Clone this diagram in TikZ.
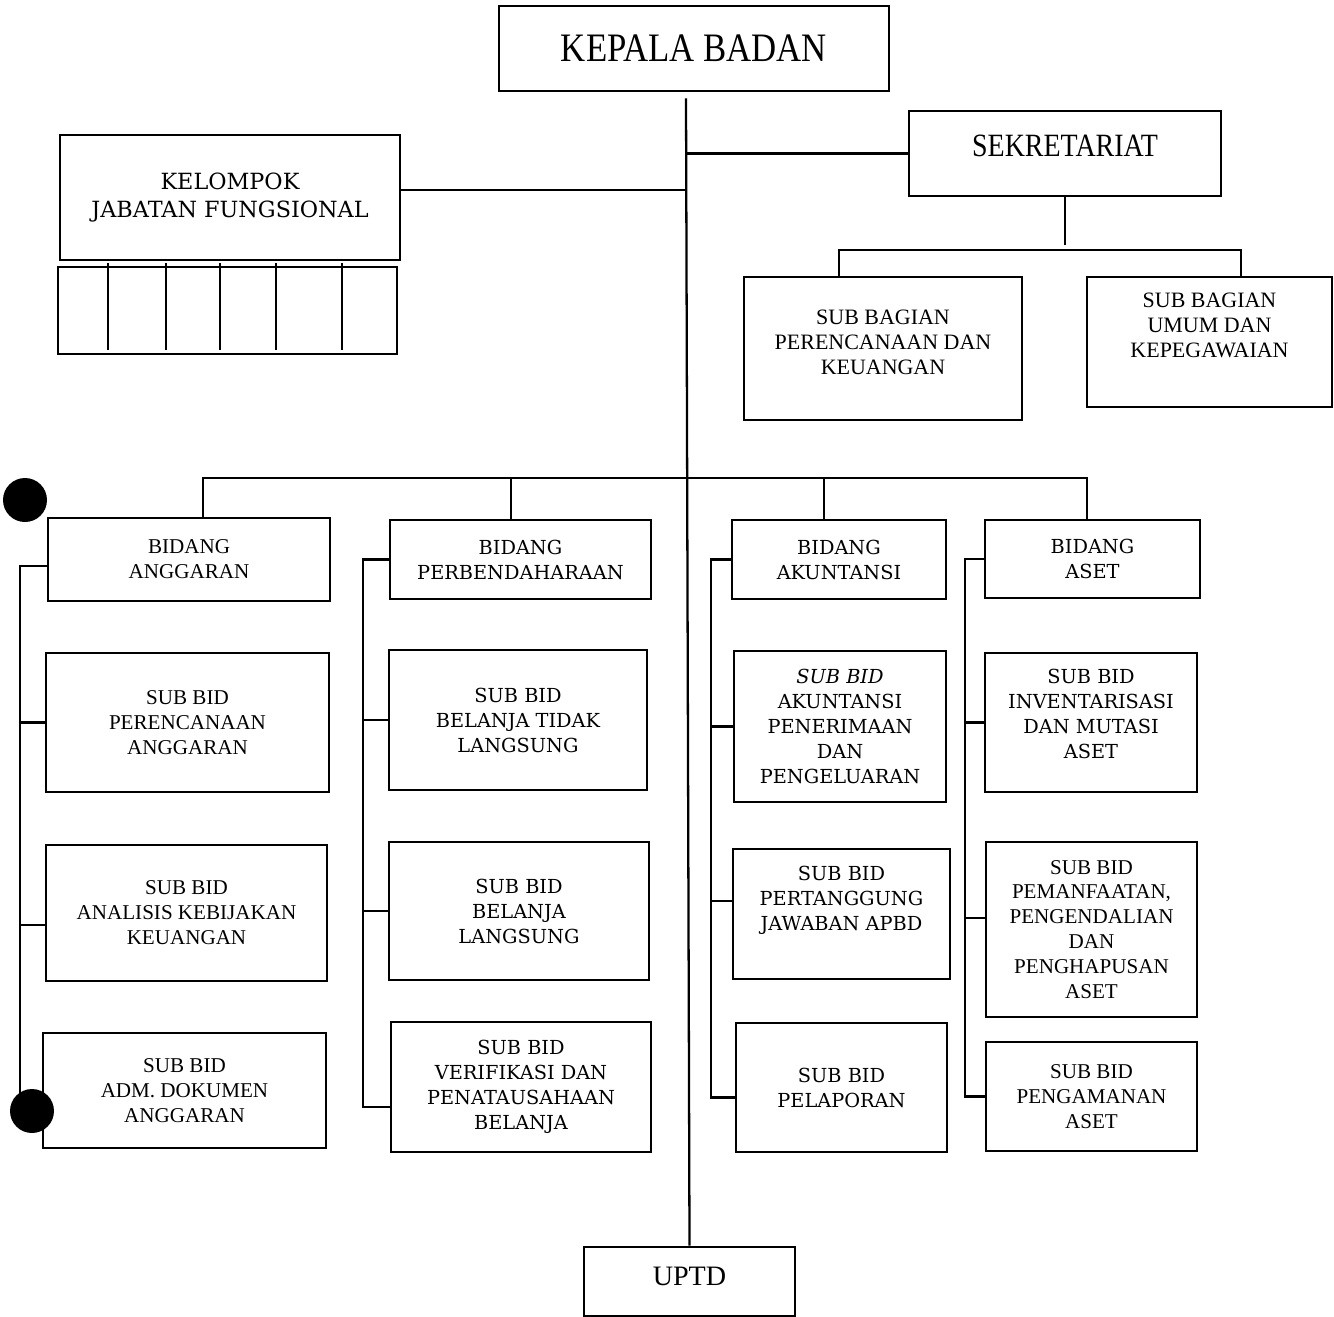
\documentclass[tikz,border=0pt]{standalone}
\usepackage{fontspec}
\setmainfont{Liberation Serif}
\newfontfamily\bkfont{DejaVu Serif}
\newfontfamily\cdfont[FakeStretch=0.86]{Liberation Serif}
\usepackage{tikz}

\tikzset{
  box/.style={draw, line width=1.6pt, align=center, inner sep=0pt},
  wh/.style 2 args={minimum width=#1*0.02cm, minimum height=#2*0.02cm},
  tm/.style={font=\fontsize{12}{14.2}\selectfont},
  bk/.style={font=\bkfont\fontsize{11}{14.2}\selectfont},
  link/.style={line width=1.3pt},
}

\begin{document}
\begin{tikzpicture}[x=0.02cm, y=-0.02cm]
\useasboundingbox (0,0) rectangle (1334,1316);

% top
\node[box, wh={390}{85}, font=\cdfont\fontsize{23}{26}\selectfont] (ka) at (694,48.5) {KEPALA BADAN};
\node[box, wh={312}{85}, text depth=0.3cm, font=\cdfont\fontsize{18.5}{22}\selectfont] (sek) at (1065,153.5) {SEKRETARIAT};
\node[box, wh={340}{125}, font=\bkfont\fontsize{12.7}{16.4}\selectfont] (kel) at (230,197.5) {KELOMPOK\\JABATAN FUNGSIONAL};
\draw[line width=1.6pt] (58,267) rectangle (397,354);
\foreach \x in {108,166,220,276,342}
  \draw[line width=1.6pt] (\x,263) -- (\x,350);

\node[box, tm, wh={278}{143}, text depth=0.25cm, font=\fontsize{12.5}{14.2}\selectfont] (sbag1) at (883,348.5) {SUB BAGIAN\\PERENCANAAN DAN\\KEUANGAN};
\node[box, tm, wh={245}{130}, text depth=0.66cm, font=\fontsize{12.5}{14.2}\selectfont] (sbag2) at (1209.5,342) {SUB BAGIAN\\UMUM DAN\\KEPEGAWAIAN};

% bidang anggaran
\node[box, tm, wh={282}{83}] (bidA) at (189,559.5) {BIDANG\\ANGGARAN};
\node[box, tm, wh={283}{139}] (sbA1) at (187.5,722.5) {SUB BID\\PERENCANAAN\\ANGGARAN};
\node[box, tm, wh={281}{136}] (sbA2) at (186.5,913) {SUB BID\\ANALISIS KEBIJAKAN\\KEUANGAN};
\node[box, tm, wh={283}{115}] (sbA3) at (184.5,1090.5) {SUB BID\\ADM. DOKUMEN\\ANGGARAN};

% bidang perbendaharaan
\node[box, bk, wh={261}{79}] (bidB) at (520.5,559.5) {BIDANG\\PERBENDAHARAAN};
\node[box, bk, wh={258}{140}] (sbB1) at (518,720) {SUB BID\\BELANJA TIDAK\\LANGSUNG};
\node[box, bk, wh={260}{138}] (sbB2) at (519,911) {SUB BID\\BELANJA\\LANGSUNG};
\node[box, bk, wh={260}{130}] (sbB3) at (521,1087) {SUB BID\\VERIFIKASI DAN\\PENATAUSAHAAN\\BELANJA};

% bidang akuntansi
\node[box, bk, wh={214}{79}] (bidC) at (839,559.5) {BIDANG\\AKUNTANSI};
\node[box, bk, wh={212}{151}] (sbC1) at (840,726.5) {\textit{SUB BID}\\AKUNTANSI\\PENERIMAAN\\DAN\\PENGELUARAN};
\node[box, bk, wh={217}{130}, text depth=0.62cm] (sbC2) at (841.5,914) {SUB BID\\PERTANGGUNG\\JAWABAN APBD};
\node[box, bk, wh={211}{129}] (sbC3) at (841.5,1087.5) {SUB BID\\PELAPORAN};

% bidang aset
\node[box, bk, wh={215}{78}] (bidD) at (1092.5,559) {BIDANG\\ASET};
\node[box, bk, wh={212}{139}, text depth=0.35cm] (sbD1) at (1091,722.5) {SUB BID\\INVENTARISASI\\DAN MUTASI\\ASET};
\node[box, tm, wh={211}{175}] (sbD2) at (1091.5,929.5) {SUB BID\\PEMANFAATAN,\\PENGENDALIAN\\DAN\\PENGHAPUSAN\\ASET};
\node[box, tm, wh={211}{109}] (sbD3) at (1091.5,1096.5) {SUB BID\\PENGAMANAN\\ASET};

\node[box, wh={211}{69}, text depth=0.2cm, font=\fontsize{16}{19}\selectfont] (uptd) at (689.5,1281.5) {UPTD};

% connectors
\coordinate (trunk) at (686,0);
\coordinate (jf) at (686,190);
\coordinate (sba) at (839,250);
\coordinate (sbb) at (1241,250);
\draw[link] ([yshift=-0.12cm]ka.south -| trunk) -- (uptd.north);
\draw[link] (sek.west) -- (sek.west -| trunk);
\draw[link] (jf) -- (jf -| kel.east);
\draw[link] (sek.south) -- ([yshift=0.1cm]sek.south |- sba);
\draw[link] (sbag1.north -| sba) -- (sba) -- (sbb) -- (sbag2.north -| sbb);

\coordinate (b1) at (203,478);
\coordinate (b2) at (511,478);
\coordinate (b3) at (824,478);
\coordinate (b4) at (1087,478);
\draw[link] (b1 |- bidA.north) -- (b1) -- (b4) -- (b4 |- bidD.north);
\draw[link] (b2) -- (b2 |- bidB.north);
\draw[link] (b3) -- (b3 |- bidC.north);

\coordinate (sA) at (20,0);
\coordinate (sB) at (363,0);
\coordinate (sC) at (711,0);
\coordinate (sD) at (965,0);
\draw[link] ([yshift=-0.13cm]bidA.west) -- ([yshift=-0.13cm]bidA.west -| sA) -- ([yshift=-0.39cm]sbA3.west -| sA) -- ([yshift=-0.39cm]sbA3.west);
\draw[link] (sbA1.west) -- (sbA1.west -| sA);
\draw[link] ([yshift=-0.24cm]sbA2.west) -- ([yshift=-0.24cm]sbA2.west -| sA);
\draw[link] (bidB.west) -- (bidB.west -| sB) -- ([yshift=-0.4cm]sbB3.west -| sB) -- ([yshift=-0.4cm]sbB3.west);
\draw[link] (sbB1.west) -- (sbB1.west -| sB);
\draw[link] (sbB2.west) -- (sbB2.west -| sB);
\draw[link] (bidC.west) -- (bidC.west -| sC) -- ([yshift=-0.2cm]sbC3.west -| sC) -- ([yshift=-0.2cm]sbC3.west);
\draw[link] (sbC1.west) -- (sbC1.west -| sC);
\draw[link] ([yshift=0.26cm]sbC2.west) -- ([yshift=0.26cm]sbC2.west -| sC);
\draw[link] (bidD.west) -- (bidD.west -| sD) -- (sbD3.west -| sD) -- (sbD3.west);
\draw[link] (sbD1.west) -- (sbD1.west -| sD);
\draw[link] ([yshift=0.23cm]sbD2.west) -- ([yshift=0.23cm]sbD2.west -| sD);

% punch holes
\fill (25,500) circle (0.44cm);
\fill (32,1111) circle (0.44cm);
\end{tikzpicture}
\end{document}
